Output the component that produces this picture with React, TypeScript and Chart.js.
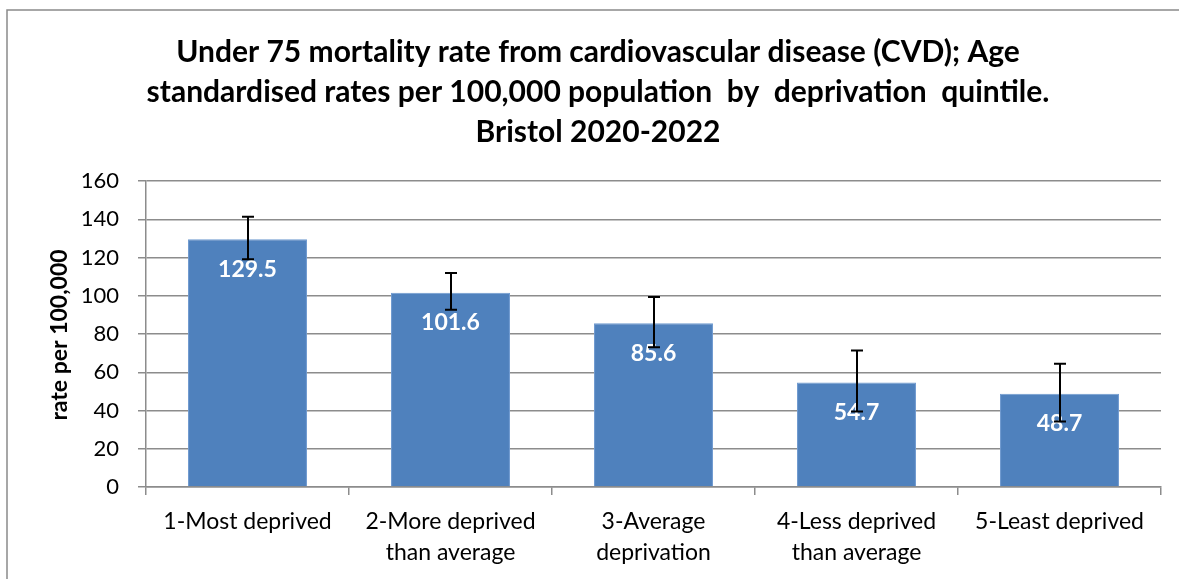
import { useEffect, useRef } from 'react';
import { Chart, registerables } from 'chart.js';

Chart.register(...registerables);

const categories: string[][] = [
  ['1-Most deprived'],
  ['2-More deprived', 'than average'],
  ['3-Average', 'deprivation'],
  ['4-Less deprived', 'than average'],
  ['5-Least deprived'],
];
const rates = [129.5, 101.6, 85.6, 54.7, 48.7];
const lowerCI = [119.1, 92.7, 73.1, 39.5, 34.3];
const upperCI = [141.3, 111.9, 99.3, 71.4, 64.4];
const titleLines = [
  'Under 75 mortality rate from cardiovascular disease (CVD); Age',
  'standardised rates per 100,000 population  by  deprivation  quintile.',
  'Bristol 2020-2022',
];
const yAxisTitle = 'rate per 100,000';
const yMin = 0;
const yMax = 160;
const yStep = 20;

const FONT = 'Lato, "Open Sans", sans-serif';
const GRID = '#8c8c8c';

const overlay = {
  id: 'overlay',
  afterDatasetsDraw(chart: any) {
    const ctx = chart.ctx as CanvasRenderingContext2D;
    const meta = chart.getDatasetMeta(0);
    const y = chart.scales.y;
    ctx.save();
    // data labels
    ctx.fillStyle = '#ffffff';
    ctx.font = `bold 23px ${FONT}`;
    ctx.textAlign = 'center';
    ctx.textBaseline = 'middle';
    meta.data.forEach((bar: any, i: number) => {
      ctx.fillText(rates[i].toFixed(1), bar.x, bar.y + 30);
    });
    // error bars
    ctx.strokeStyle = '#000000';
    ctx.lineWidth = 2;
    meta.data.forEach((bar: any, i: number) => {
      const x = Math.round(bar.x);
      const yl = y.getPixelForValue(lowerCI[i]);
      const yu = y.getPixelForValue(upperCI[i]);
      ctx.beginPath();
      ctx.moveTo(x, yu);
      ctx.lineTo(x, yl);
      ctx.moveTo(x - 6, yu);
      ctx.lineTo(x + 6, yu);
      ctx.moveTo(x - 6, yl);
      ctx.lineTo(x + 6, yl);
      ctx.stroke();
    });
    ctx.restore();
  },
  afterDraw(chart: any) {
    const ctx = chart.ctx as CanvasRenderingContext2D;
    ctx.save();
    // outer border
    ctx.strokeStyle = '#8a8a8a';
    ctx.lineWidth = 1.5;
    ctx.strokeRect(7, 10, 1400, 800);
    // title
    ctx.fillStyle = '#000000';
    ctx.font = `bold 30px ${FONT}`;
    ctx.textAlign = 'center';
    ctx.textBaseline = 'alphabetic';
    titleLines.forEach((line, i) => {
      ctx.fillText(line, 598, 62 + i * 40);
    });
    // y axis title
    ctx.translate(60, 335);
    ctx.rotate(-Math.PI / 2);
    ctx.font = `bold 23px ${FONT}`;
    ctx.textBaseline = 'middle';
    ctx.fillText(yAxisTitle, 0, 0);
    ctx.restore();
  },
};

export default function App() {
  const ref = useRef<HTMLCanvasElement | null>(null);
  useEffect(() => {
    if (!ref.current) return;
    const chart = new Chart(ref.current, {
      type: 'bar',
      data: {
        labels: categories,
        datasets: [
          {
            data: rates,
            backgroundColor: '#4f81bd',
            borderColor: '#6f9ad0',
            borderWidth: 1,
            barPercentage: 0.586,
            categoryPercentage: 1,
          },
        ],
      },
      options: {
        responsive: false,
        animation: false,
        devicePixelRatio: 1,
        layout: { padding: { top: 181, left: 0, right: 18, bottom: 0 } },
        plugins: {
          legend: { display: false },
          title: { display: false },
          tooltip: { enabled: false },
        },
        scales: {
          x: {
            grid: {
              offset: true,
              drawOnChartArea: false,
              drawTicks: true,
              tickLength: 8,
              color: GRID,
              lineWidth: 1.5,
            },
            border: { color: GRID, width: 1.5 },
            ticks: {
              font: { family: FONT, size: 23, lineHeight: 1.35 },
              color: '#000000',
              padding: 11,
              maxRotation: 0,
              autoSkip: false,
            },
            afterFit(scale: any) {
              scale.height = 92;
            },
          },
          y: {
            min: yMin,
            max: yMax,
            ticks: {
              stepSize: yStep,
              font: { family: FONT, size: 22 },
              color: '#000000',
              padding: 19,
            },
            grid: {
              color: GRID,
              lineWidth: 1.5,
              tickLength: 8,
              drawTicks: true,
            },
            border: { color: GRID, width: 1.5 },
            afterFit(scale: any) {
              scale.width = 146;
            },
          },
        },
      },
      plugins: [overlay],
    });
    return () => chart.destroy();
  }, []);
  return (
    <div style={{ position: 'fixed', left: 0, top: 0, width: 1179, height: 579, background: '#ffffff' }}>
      <canvas ref={ref} width={1179} height={579} style={{ width: 1179, height: 579, display: 'block' }} />
    </div>
  );
}
